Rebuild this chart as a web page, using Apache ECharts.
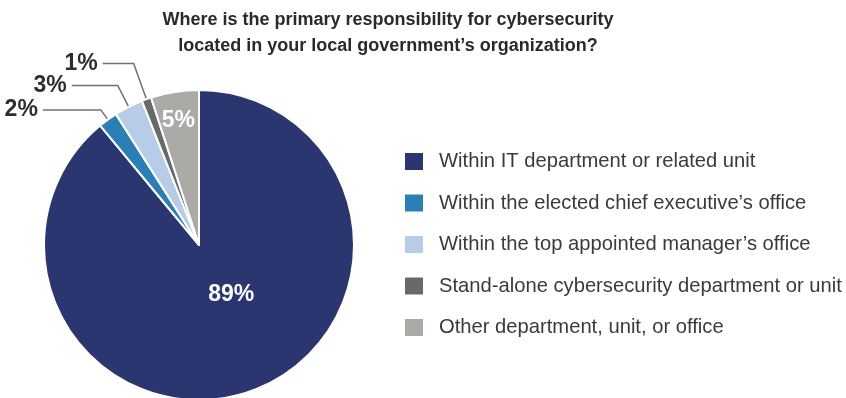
<!DOCTYPE html>
<html>
<head>
<meta charset="utf-8">
<script src="https://cdn.jsdelivr.net/npm/echarts@6/dist/echarts.min.js"></script>
<style>
  html, body { margin: 0; padding: 0; background: #ffffff; }
  #chart { width: 846px; height: 398px; }
</style>
</head>
<body>
<div id="chart"></div>
<script>
// Survey answers and their shares (percent)
const categories = [
  'Within IT department or related unit',
  'Within the elected chief executive\u2019s office',
  'Within the top appointed manager\u2019s office',
  'Stand-alone cybersecurity department or unit',
  'Other department, unit, or office'
];
const shares = [89, 2, 3, 1, 5];
const sliceColors = ['#2b3670', '#2a7fb5', '#b7cde7', '#68696a', '#abaaa7'];

const titleText = 'Where is the primary responsibility for cybersecurity\nlocated in your local government\u2019s organization?';

// Per-slice label placement: large slices labelled inside, thin ones outside with leader lines
const outsideLabel = { position: 'outside', padding: [5, 0, 0, 0] };
const labelStyles = [
  { label: { position: 'inside', color: '#ffffff', offset: [5, -26] }, labelLine: { show: false } },
  { label: outsideLabel, labelLine: { show: true, length: 12, length2: 58 } },
  { label: outsideLabel, labelLine: { show: true, length: 24, length2: 46 } },
  { label: outsideLabel, labelLine: { show: true, length: 38, length2: 31 } },
  { label: { position: 'inside', color: '#ffffff', offset: [-8, -45] }, labelLine: { show: false } }
];

const pieData = categories.map((name, i) => ({
  name: name,
  value: shares[i],
  itemStyle: { color: sliceColors[i] },
  label: labelStyles[i].label,
  labelLine: labelStyles[i].labelLine
}));

const chart = echarts.init(document.getElementById('chart'), null, { renderer: 'canvas' });
chart.setOption({
  backgroundColor: '#ffffff',
  animation: false,
  title: {
    text: titleText,
    left: 383,
    top: 2,
    textAlign: 'center',
    textStyle: {
      fontFamily: 'Liberation Sans, Arial, sans-serif',
      fontSize: 18,
      fontWeight: 'bold',
      color: '#2a2a2a',
      lineHeight: 26
    }
  },
  legend: {
    orient: 'vertical',
    left: 398,
    top: 146,
    itemWidth: 20,
    itemHeight: 19,
    itemGap: 20.5,
    icon: 'rect',
    data: categories,
    selectedMode: false,
    textStyle: {
      fontFamily: 'Liberation Sans, Arial, sans-serif',
      fontSize: 20.2,
      color: '#3a3a3a',
      padding: [0, 0, 0, 10]
    }
  },
  series: [{
    type: 'pie',
    center: [199, 245],
    radius: 155,
    startAngle: 90,
    clockwise: true,
    avoidLabelOverlap: false,
    labelLayout: { hideOverlap: false },
    itemStyle: { borderColor: '#ffffff', borderWidth: 2 },
    label: {
      show: true,
      formatter: '{c}%',
      fontFamily: 'Liberation Sans, Arial, sans-serif',
      fontSize: 23,
      lineHeight: 23,
      fontWeight: 'bold',
      color: '#2e2e2e'
    },
    labelLine: {
      lineStyle: { color: '#707070', width: 1.5 },
      smooth: false
    },
    emphasis: { disabled: true },
    data: pieData
  }]
});
</script>
</body>
</html>
